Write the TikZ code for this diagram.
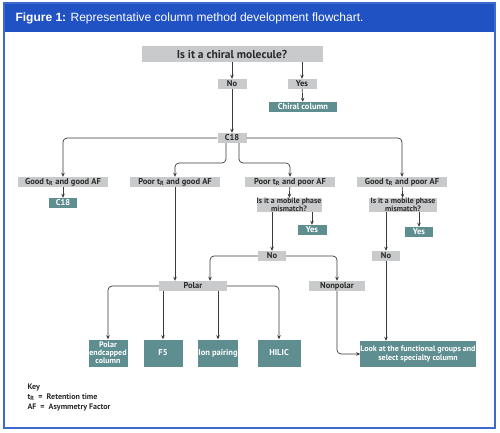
\documentclass[tikz,border=0pt]{standalone}
\usepackage{fontspec}
\setmainfont{PT Sans}
\newfontfamily\titlefont{Liberation Sans}
\usetikzlibrary{arrows.meta}
\definecolor{figblue}{HTML}{2152C4}
\definecolor{frameblue}{HTML}{3C6ACD}
\definecolor{boxgray}{HTML}{C8CACB}
\definecolor{boxteal}{HTML}{5F8E91}
\definecolor{linegray}{HTML}{3A3A3A}
\definecolor{textdark}{HTML}{2A2A2A}
\begin{document}
\begin{tikzpicture}[x=1pt,y=-1pt,
  qbox/.style={fill=boxgray, text=textdark, font=\bfseries\fontsize{8.5}{9}\selectfont, inner sep=0pt, align=center, minimum height=10pt},
  abox/.style={fill=boxteal, text=white, font=\bfseries\fontsize{8.5}{9}\selectfont, inner sep=0pt, align=center, minimum height=10pt},
  link/.style={draw=linegray, line width=0.7pt, rounded corners=4pt, -{Stealth[length=4pt,width=3.5pt]}}]
\useasboundingbox (0,0) rectangle (500,433);
\fill[white] (0,0) rectangle (500,433);
\fill[figblue] (4,3) rectangle (495,32);
\draw[frameblue, line width=1.4pt] (4,3) rectangle (495,428);
\node[anchor=west, text=white, font=\titlefont\fontsize{12}{14}\selectfont] (title) at (12,18) {\textbf{Figure 1:} Representative column method development flowchart.};
\node[qbox, minimum width=181pt, minimum height=16pt, font=\bfseries\fontsize{11.5}{12}\selectfont] (chiral) at (232,54) {Is it a chiral molecule?};
\node[qbox, minimum width=29pt] (no1) at (232,84) {No};
\node[qbox, minimum width=29pt] (yes1) at (302,84) {Yes};
\node[abox, minimum width=68pt] (chiralcol) at (303,107) {Chiral column};
\node[qbox, minimum width=29pt] (c18) at (232,138) {C18};
\node[qbox, minimum width=90pt] (goodgood) at (63,182) {Good t\textsubscript{R} and good AF};
\node[qbox, minimum width=90pt] (poorgood) at (175,182) {Poor t\textsubscript{R} and good AF};
\node[qbox, minimum width=90pt] (poorpoor) at (290,182) {Poor t\textsubscript{R} and poor AF};
\node[qbox, minimum width=90pt] (goodpoor) at (402,182) {Good t\textsubscript{R} and poor AF};
\node[abox, minimum width=28pt] (c18col) at (63,203) {C18};
\node[qbox, minimum width=65pt, minimum height=14pt, font=\bfseries\fontsize{7.8}{7.5}\selectfont] (mm1) at (289,205) {Is it a mobile phase\\mismatch?};
\node[qbox, minimum width=68pt, minimum height=14pt, font=\bfseries\fontsize{7.8}{7.5}\selectfont] (mm2) at (403,205) {Is it a mobile phase\\mismatch?};
\node[abox, minimum width=29pt] (yes2) at (312,230) {Yes};
\node[abox, minimum width=28pt] (yes3) at (419,232) {Yes};
\node[qbox, minimum width=28pt] (no2) at (272,256) {No};
\node[qbox, minimum width=28pt] (no3) at (386,256) {No};
\node[qbox, minimum width=68pt] (polar) at (193,286) {Polar};
\node[qbox, minimum width=56pt] (nonpolar) at (337,286) {Nonpolar};
\node[abox, minimum width=39pt, minimum height=27pt, font=\bfseries\fontsize{8}{8}\selectfont] (endcap) at (108,353) {Polar\\endcapped\\column};
\node[abox, minimum width=39pt, minimum height=27pt] (f5) at (163,353) {F5};
\node[abox, minimum width=40pt, minimum height=27pt] (ion) at (218,353) {Ion pairing};
\node[abox, minimum width=43pt, minimum height=27pt] (hilic) at (279,353) {HILIC};
\node[abox, minimum width=112pt, minimum height=26pt, font=\bfseries\fontsize{8}{9}\selectfont] (look) at (418,354) {Look at the functional groups and\\select specialty column};
\node[anchor=north west, text=textdark, align=left, font=\bfseries\fontsize{8}{8.5}\selectfont] (key) at (24,380) {Key\\[1.5pt]t\textsubscript{R} \ = \ Retention time\\[1.5pt]AF \ = \ Asymmetry Factor};
\coordinate (c18l) at ([xshift=-6pt]c18.south);
\coordinate (c18r) at ([xshift=7pt]c18.south);
\coordinate (split) at (0,163);
\draw[link] (no1 |- chiral.south) -- (no1.north);
\draw[link] (yes1 |- chiral.south) -- (yes1.north);
\draw[link] (yes1) -- (chiralcol);
\draw[link] (no1) -- (c18);
\draw[link] (c18.west) -| (goodgood.north);
\draw[link] (c18.east) -| (goodpoor.north);
\draw[link] (c18l) -- (c18l |- split) -| (poorgood.north);
\draw[link] (c18r) -- (c18r |- split) -| (poorpoor.north);
\draw[link] (goodgood) -- (c18col);
\draw[link] (poorpoor) -- (mm1);
\draw[link] (goodpoor) -- (mm2);
\draw[link] (yes2 |- mm1.south) -- (yes2.north);
\draw[link] (yes3 |- mm2.south) -- (yes3.north);
\draw[link] (no2 |- mm1.south) -- (no2.north);
\draw[link] (no3 |- mm2.south) -- (no3.north);
\draw[link] (poorgood.south) -- (poorgood.south |- polar.north);
\draw[link] (no2.west) -| ([xshift=17pt]polar.north);
\draw[link] (no2.east) -| (nonpolar.north);
\draw[link] (polar.west) -| (endcap.north);
\draw[link] (polar.south -| f5) -- (f5.north);
\draw[link] (polar.south -| ion) -- (ion.north);
\draw[link] (polar.east) -| (hilic.north);
\draw[link] (nonpolar.south) |- (look.west);
\draw[link] (no3.south) -- (no3.south |- look.north);
\end{tikzpicture}
\end{document}
